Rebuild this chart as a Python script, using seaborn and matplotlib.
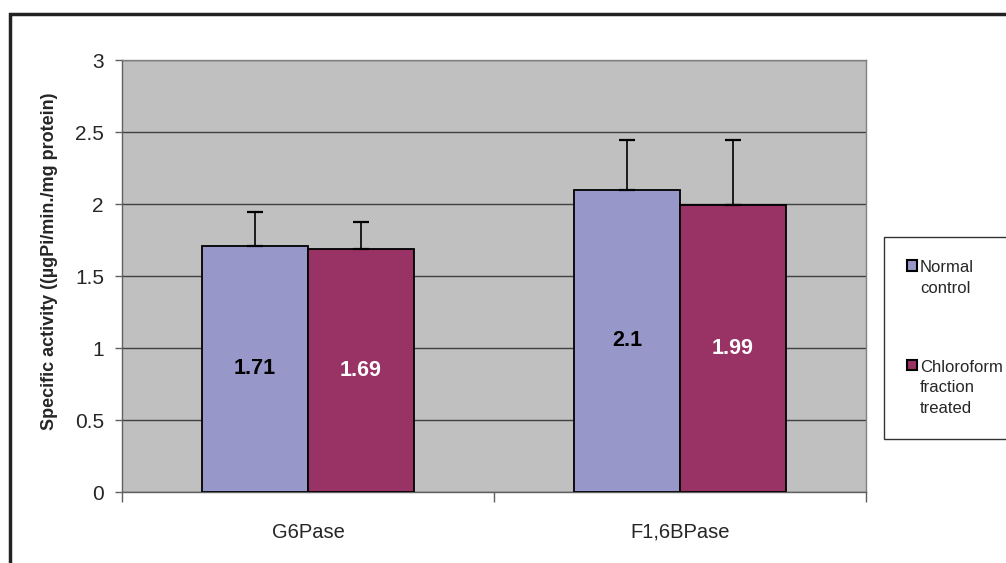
import numpy as np
import pandas as pd
import matplotlib
matplotlib.use("Agg")
import matplotlib.pyplot as plt
import seaborn as sns
from matplotlib.patches import Rectangle

# chart data
enzymes = ["G6Pase", "F1,6BPase"]
groups = ["Normal\ncontrol", "Chloroform\nfraction\ntreated"]
normal_vals = [1.71, 2.1]
chloro_vals = [1.69, 1.99]
normal_err = [0.235, 0.345]
chloro_err = [0.185, 0.455]

df = pd.DataFrame({
    "enzyme": enzymes * 2,
    "group": [groups[0]] * 2 + [groups[1]] * 2,
    "value": normal_vals + chloro_vals,
})

sns.set_style("white")
plt.rcParams["font.family"] = ["Liberation Sans", "DejaVu Sans"]

fig = plt.figure(figsize=(10.06, 5.63), dpi=100)
ax = fig.add_axes([122 / 1006, 1 - 492 / 563, 744 / 1006, 432 / 563])
ax.set_facecolor("#C0C0C0")

palette = {groups[0]: "#9797C9", groups[1]: "#993366"}
sns.barplot(data=df, x="enzyme", y="value", hue="group", order=enzymes,
            hue_order=groups, palette=palette, width=0.57, errorbar=None,
            edgecolor="black", linewidth=1.3, saturation=1, ax=ax, zorder=3)

# one-sided error bars and value labels
errs = {groups[0]: normal_err, groups[1]: chloro_err}
vals = {groups[0]: normal_vals, groups[1]: chloro_vals}
txt_col = {groups[0]: "black", groups[1]: "white"}
bars = [p for p in ax.patches if p.get_height() > 0]
bars = sorted(bars, key=lambda p: p.get_x())
order = [(0, groups[0]), (0, groups[1]), (1, groups[0]), (1, groups[1])]
for p, (i, g) in zip(bars, order):
    xc = p.get_x() + p.get_width() / 2
    v = vals[g][i]
    ax.errorbar(xc, v, yerr=[[0], [errs[g][i]]], fmt="none", ecolor="black",
                elinewidth=1.2, capsize=6, capthick=1.6, zorder=4)
    ax.text(xc, v / 2, f"{v:g}", ha="center", va="center", fontsize=15.5,
            fontweight="bold", color=txt_col[g], zorder=5)

ax.set_ylim(0, 3)
ax.set_xlim(-0.5, 1.5)
ax.set_yticks(np.arange(0, 3.01, 0.5))
ax.set_yticklabels(["0", "0.5", "1", "1.5", "2", "2.5", "3"])
ax.yaxis.grid(True, color="#404040", linewidth=1)
ax.set_axisbelow(True)
ax.tick_params(axis="y", length=5, width=1, color="#606060", labelsize=15, pad=8, left=True)
ax.tick_params(axis="x", which="major", length=0, labelsize=14.5, pad=22)
ax.set_xticks([-0.5, 0.5, 1.5], minor=True)
ax.tick_params(axis="x", which="minor", length=7, width=1, color="#606060", bottom=True)
for s in ax.spines.values():
    s.set_color("#808080")
    s.set_linewidth(1)
ax.spines["left"].set_color("#606060")
ax.spines["bottom"].set_color("#606060")

ax.set_xlabel("")
ax.set_ylabel("Specific activity ((µgPi/min./mg protein)", fontsize=13,
              fontweight="bold")
ax.yaxis.set_label_coords(-0.086, 0.535)

# legend
handles, labels = ax.get_legend_handles_labels()
leg = ax.legend(handles, labels, loc="upper left", bbox_to_anchor=(884 / 1006, 1 - 237 / 563),
                bbox_transform=fig.transFigure, frameon=True, fancybox=False,
                handlelength=0.6, handleheight=0.6, handletextpad=0.15,
                labelspacing=3.85, fontsize=12, borderpad=1.4, borderaxespad=0)
leg.get_frame().set_edgecolor("black")
leg.get_frame().set_linewidth(1)
for h in leg.legend_handles:
    h.set_edgecolor("black")
    h.set_linewidth(1.5)
for t in leg.get_texts():
    t.set_linespacing(1.45)
for col in leg._legend_handle_box.get_children():
    for row in col.get_children():
        row.align = "top"

# outer chart frame
fig.patches.append(Rectangle((10 / 1006, -0.1), 1.2, 1 - 14 / 563 + 0.1,
                             transform=fig.transFigure, fill=False,
                             edgecolor="#222222", linewidth=2.5))

fig.savefig("out.png", dpi=100)
